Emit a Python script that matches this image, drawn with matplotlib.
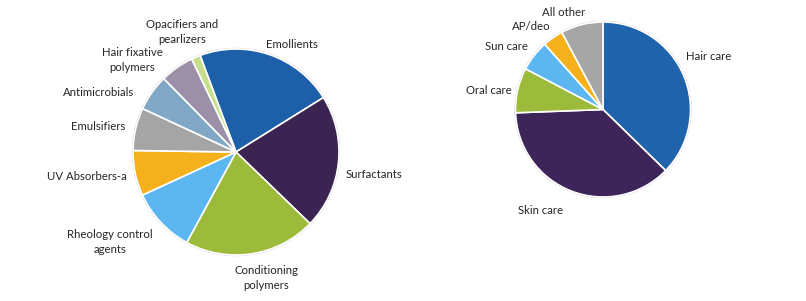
import matplotlib.pyplot as plt

plt.rcParams['font.family'] = ['Lato', 'DejaVu Sans']

# -----------------------------
# Data: left pie (ingredient types)
# -----------------------------
ingredients = ["Emollients", "Surfactants", "Conditioning\npolymers",
               "Rheology control\nagents", "UV Absorbers-a", "Emulsifiers",
               "Antimicrobials", "Hair fixative\npolymers", "Opacifiers and\npearlizers"]
ingredient_share = [21.8, 21.1, 20.7, 10.2, 7.1, 6.7, 5.7, 5.3, 1.4]
ingredient_colors = ["#1d5fa8", "#3b2452", "#9cbb3a", "#5cb6f0", "#f5b11b",
                     "#a5a5a5", "#80a8c6", "#9b90a8", "#c6df8c"]

# -----------------------------
# Data: right pie (end uses)
# -----------------------------
segments = ["Hair care", "Skin care", "Oral care", "Sun care", "AP/deo", "All other"]
segment_share = [37.3, 37.1, 8.3, 5.7, 3.8, 7.8]
segment_colors = ["#1e63ac", "#3d2559", "#9cbb3a", "#5cb6f0", "#f5b11b", "#a6a6a6"]

# label placement (pixel coords, y from top) and alignment
left_label_pos = [(266, 44, "left"), (346, 174, "left"), (266, 278, "center"),
                  (110, 242, "center"), (47, 177, "left"), (71, 127, "left"),
                  (63, 93, "left"), (132, 60, "center"), (182, 32, "center")]
right_label_pos = [(686, 57, "left"), (518, 210, "left"), (466, 90, "left"),
                   (485, 47, "left"), (512, 27, "left"), (542, 12, "left")]

W, H = 806, 301
fig = plt.figure(figsize=(W / 100, H / 100), dpi=100)
ax = fig.add_axes([0, 0, 1, 1])

wedge_style = dict(edgecolor='white', linewidth=1.2)

ax.pie(ingredient_share, colors=ingredient_colors, center=(236, H - 152), radius=103,
       startangle=110.4, counterclock=False, wedgeprops=wedge_style, frame=True)
ax.pie(segment_share, colors=segment_colors, center=(603, H - 109.5), radius=87.5,
       startangle=90, counterclock=False, wedgeprops=wedge_style, frame=True)

# faint outline like the original's shadow
for c, r in [((236, H - 152), 103.5), ((603, H - 109.5), 88)]:
    ax.add_patch(plt.Circle(c, r, fill=False, edgecolor='#d8d4dc', linewidth=1.0, zorder=0))

ax.set_xlim(0, W)
ax.set_ylim(0, H)
ax.set_aspect('equal')
ax.axis('off')

for name, (x, y, ha) in zip(ingredients, left_label_pos):
    ax.text(x, H - y, name, ha=ha, va='center', fontsize=8.2, color='#262626',
            linespacing=1.5)
for name, (x, y, ha) in zip(segments, right_label_pos):
    ax.text(x, H - y, name, ha=ha, va='center', fontsize=8.2, color='#262626')

fig.savefig("out.png", dpi=100, facecolor='white')
